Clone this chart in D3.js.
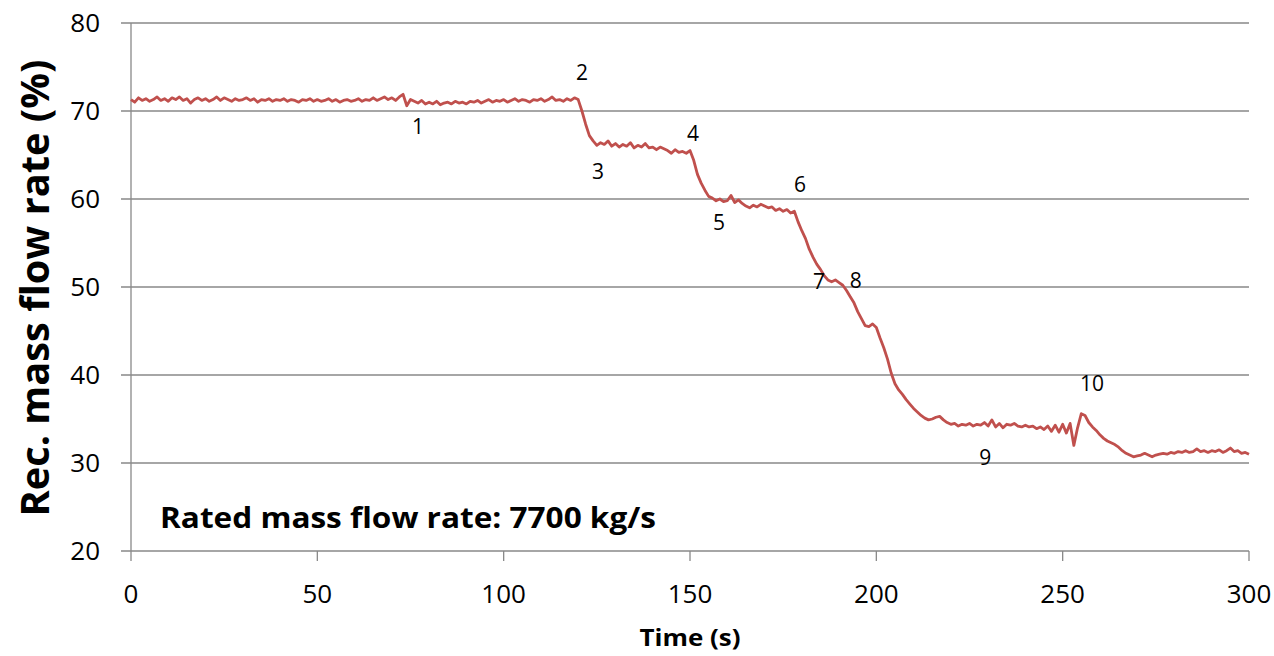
<!DOCTYPE html>
<html><head><meta charset="utf-8">
<script src="https://cdn.jsdelivr.net/npm/d3@7/dist/d3.min.js"></script>
<style>body{margin:0;background:#fff}svg{display:block}text{font-family:"Open Sans",sans-serif}</style>
</head><body><svg id="c" width="1274" height="656"></svg>
<script>
const startTime = 0, timeStep = 1;
const flowRate = [
71.3,71.0,71.5,71.2,71.4,71.1,71.3,71.6,71.2,71.4,
71.1,71.5,71.3,71.6,71.2,71.4,70.9,71.3,71.5,71.2,
71.4,71.1,71.3,71.6,71.2,71.5,71.3,71.1,71.4,71.2,
71.3,71.5,71.2,71.4,71.0,71.3,71.2,71.4,71.1,71.3,
71.2,71.4,71.1,71.3,71.2,71.0,71.3,71.2,71.4,71.1,
71.3,71.1,71.2,71.4,71.1,71.3,71.0,71.2,71.3,71.1,
71.2,71.4,71.1,71.3,71.2,71.5,71.2,71.4,71.6,71.3,
71.5,71.2,71.6,71.9,70.6,71.3,71.1,70.9,71.2,70.8,
71.0,70.8,71.1,70.7,70.9,71.0,70.8,71.1,70.9,71.0,
70.8,71.1,71.0,71.2,70.9,71.1,71.3,71.0,71.2,71.1,
71.3,71.0,71.2,71.4,71.1,71.3,71.2,71.0,71.3,71.2,
71.4,71.1,71.3,71.6,71.2,71.3,71.1,71.4,71.2,71.5,
71.3,70.0,68.5,67.2,66.6,66.1,66.4,66.2,66.6,66.0,
66.3,65.9,66.2,66.0,66.4,65.8,66.1,65.9,66.3,65.8,
65.9,65.6,65.9,65.7,65.5,65.2,65.6,65.3,65.4,65.2,
65.5,64.4,62.8,61.8,61.0,60.3,60.1,59.8,60.0,59.7,
59.8,60.4,59.6,59.9,59.5,59.2,59.0,59.3,59.1,59.4,
59.2,59.0,59.1,58.7,58.9,58.6,58.8,58.4,58.6,57.4,
56.4,55.5,54.3,53.4,52.6,52.0,51.3,50.8,50.6,50.8,
50.5,50.2,49.6,48.9,48.2,47.2,46.4,45.6,45.5,45.8,
45.4,44.2,43.1,41.8,40.2,39.0,38.3,37.8,37.2,36.7,
36.2,35.8,35.4,35.1,34.9,35.0,35.2,35.3,34.9,34.6,
34.4,34.5,34.2,34.4,34.3,34.5,34.2,34.4,34.3,34.6,
34.2,34.9,34.1,34.5,34.0,34.4,34.3,34.5,34.2,34.1,
34.3,34.1,34.2,33.9,34.1,33.8,34.2,33.6,34.3,33.5,
34.4,33.4,34.5,32.0,34.0,35.6,35.4,34.6,34.1,33.7,
33.2,32.8,32.5,32.3,32.1,31.8,31.4,31.1,30.9,30.7,
30.8,30.9,31.1,30.9,30.7,30.9,31.0,31.1,31.0,31.2,
31.1,31.3,31.2,31.4,31.2,31.3,31.6,31.3,31.4,31.2,
31.4,31.3,31.5,31.2,31.4,31.7,31.3,31.4,31.1,31.2,
31.0];
const xTicks = [0,50,100,150,200,250,300];
const yTicks = [20,30,40,50,60,70,80];
const markerLabels = ["1","2","3","4","5","6","7","8","9","10"];
const markerTimes  = [77,121,125.3,150.8,157.8,179.5,184.6,194.5,229.2,257.9];
const markerValues = [68.2,74.4,63.1,67.4,57.3,61.6,50.6,50.7,30.6,39.0];
const yTitle = "Rec. mass flow rate (%)";
const xTitle = "Time (s)";
const noteText = "Rated mass flow rate: 7700 kg/s";

const svg = d3.select("#c");
const L=131, R=1249, T=23, B=551;
const x = d3.scaleLinear().domain([0,300]).range([L,R]);
const y = d3.scaleLinear().domain([20,80]).range([B,T]);
const grid = "#898989";

svg.append("g").selectAll("line").data(yTicks).join("line")
  .attr("x1",L-10).attr("x2",R).attr("y1",d=>y(d)).attr("y2",d=>y(d))
  .attr("stroke",grid).attr("stroke-width",1.3);
svg.append("line").attr("x1",L).attr("x2",L).attr("y1",T).attr("y2",B)
  .attr("stroke",grid).attr("stroke-width",1.3);
svg.append("g").selectAll("line").data(xTicks).join("line")
  .attr("x1",d=>x(d)).attr("x2",d=>x(d)).attr("y1",B).attr("y2",B+10)
  .attr("stroke",grid).attr("stroke-width",1.3);

svg.append("g").selectAll("text").data(yTicks).join("text")
  .attr("x",L-31).attr("y",d=>y(d)).attr("dy","0.35em").attr("text-anchor","end")
  .attr("font-size",26).attr("fill","#000").text(d=>d);
svg.append("g").selectAll("text").data(xTicks).join("text")
  .attr("x",d=>x(d)).attr("y",594).attr("dy","0.35em").attr("text-anchor","middle")
  .attr("font-size",26).attr("fill","#000").text(d=>d);

const pts = flowRate.map((v,i)=>[startTime+i*timeStep, v]);
svg.append("path").datum(pts)
  .attr("d", d3.line().x(d=>x(d[0])).y(d=>y(d[1])))
  .attr("fill","none").attr("stroke","#C0504D").attr("stroke-width",2.8)
  .attr("stroke-linejoin","round");

svg.append("g").selectAll("text").data(markerLabels).join("text")
  .attr("x",(d,i)=>x(markerTimes[i])).attr("y",(d,i)=>y(markerValues[i]))
  .attr("dy","0.35em").attr("text-anchor","middle")
  .attr("font-size",21).attr("fill","#000").text(d=>d);

svg.append("text").attr("transform","translate(35,288) rotate(-90)")
  .attr("dy","0.35em").attr("text-anchor","middle").attr("font-weight","bold")
  .attr("font-size",40).attr("textLength",457).attr("lengthAdjust","spacingAndGlyphs")
  .text(yTitle);
svg.append("text").attr("x",690).attr("y",638).attr("dy","0.35em")
  .attr("text-anchor","middle").attr("font-weight","bold").attr("font-size",24)
  .attr("textLength",101).attr("lengthAdjust","spacingAndGlyphs").text(xTitle);
svg.append("text").attr("x",160).attr("y",518).attr("dy","0.35em")
  .attr("font-weight","bold").attr("font-size",28)
  .attr("textLength",496).attr("lengthAdjust","spacingAndGlyphs").text(noteText);
</script></body></html>
